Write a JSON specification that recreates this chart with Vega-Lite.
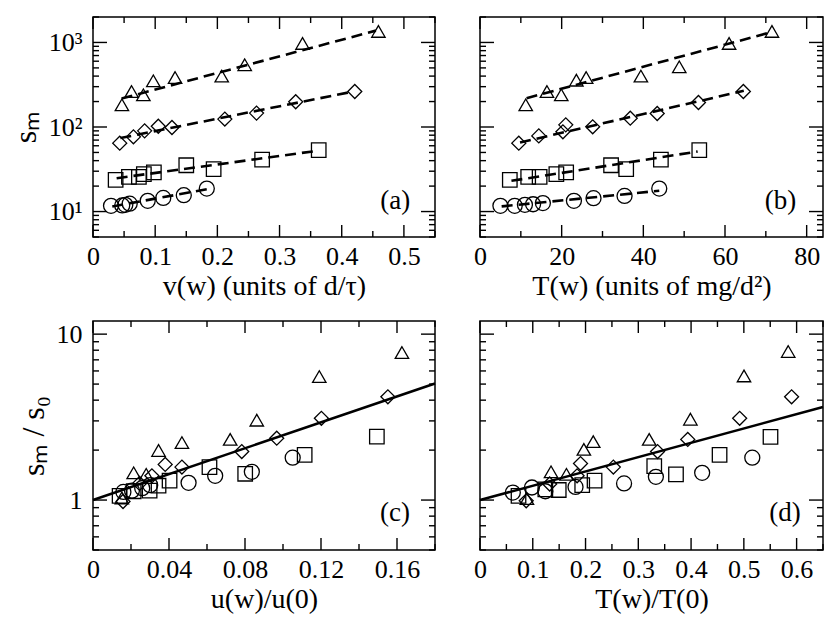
{
  "$schema": "https://vega.github.io/schema/vega-lite/v6.json",
  "background": "white",
  "padding": {"left": 8, "top": 15, "right": 6, "bottom": 5},
  "bounds": "flush",
  "columns": 2,
  "spacing": {"row": 84, "column": 45},
  "datasets": {
    "pa": [
      {"set": "A", "x": 0.029, "s": 11.7}, {"set": "A", "x": 0.047, "s": 11.8}, {"set": "A", "x": 0.052, "s": 12.0}, {"set": "A", "x": 0.059, "s": 12.4},
      {"set": "A", "x": 0.088, "s": 13.4}, {"set": "A", "x": 0.113, "s": 14.5}, {"set": "A", "x": 0.146, "s": 15.6}, {"set": "A", "x": 0.183, "s": 18.7},
      {"set": "B", "x": 0.0364, "s": 23.7}, {"set": "B", "x": 0.0578, "s": 25.7}, {"set": "B", "x": 0.0738, "s": 25.7}, {"set": "B", "x": 0.0818, "s": 27.7},
      {"set": "B", "x": 0.0979, "s": 29.0}, {"set": "B", "x": 0.150, "s": 35.3}, {"set": "B", "x": 0.194, "s": 31.7}, {"set": "B", "x": 0.272, "s": 41.2}, {"set": "B", "x": 0.363, "s": 53.2},
      {"set": "C", "x": 0.043, "s": 64.4}, {"set": "C", "x": 0.065, "s": 76.5}, {"set": "C", "x": 0.083, "s": 90}, {"set": "C", "x": 0.105, "s": 102},
      {"set": "C", "x": 0.127, "s": 98.6}, {"set": "C", "x": 0.212, "s": 124}, {"set": "C", "x": 0.263, "s": 146}, {"set": "C", "x": 0.326, "s": 199}, {"set": "C", "x": 0.421, "s": 263},
      {"set": "D", "x": 0.0465, "s": 183}, {"set": "D", "x": 0.062, "s": 263}, {"set": "D", "x": 0.081, "s": 240}, {"set": "D", "x": 0.097, "s": 352},
      {"set": "D", "x": 0.132, "s": 385}, {"set": "D", "x": 0.207, "s": 400}, {"set": "D", "x": 0.244, "s": 545}, {"set": "D", "x": 0.337, "s": 973}, {"set": "D", "x": 0.459, "s": 1349}
    ],
    "la": [
      {"set": "A", "x": 0.031, "s": 11.5}, {"set": "A", "x": 0.184, "s": 18.4},
      {"set": "B", "x": 0.038, "s": 24.8}, {"set": "B", "x": 0.360, "s": 52.2},
      {"set": "C", "x": 0.044, "s": 74}, {"set": "C", "x": 0.419, "s": 263},
      {"set": "D", "x": 0.046, "s": 217}, {"set": "D", "x": 0.455, "s": 1380}
    ],
    "pb": [
      {"set": "A", "x": 5.0, "s": 11.7}, {"set": "A", "x": 8.5, "s": 11.7}, {"set": "A", "x": 11.0, "s": 12.0}, {"set": "A", "x": 13.0, "s": 12.2},
      {"set": "A", "x": 15.4, "s": 12.6}, {"set": "A", "x": 23.0, "s": 13.4}, {"set": "A", "x": 27.8, "s": 14.4}, {"set": "A", "x": 35.4, "s": 15.3}, {"set": "A", "x": 43.9, "s": 18.7},
      {"set": "B", "x": 7.3, "s": 23.7}, {"set": "B", "x": 11.8, "s": 25.7}, {"set": "B", "x": 14.6, "s": 25.7}, {"set": "B", "x": 18.7, "s": 27.7},
      {"set": "B", "x": 21.1, "s": 29.0}, {"set": "B", "x": 32.1, "s": 35.3}, {"set": "B", "x": 35.8, "s": 31.7}, {"set": "B", "x": 44.3, "s": 41.2}, {"set": "B", "x": 53.7, "s": 53.2},
      {"set": "C", "x": 9.5, "s": 64.4}, {"set": "C", "x": 14.4, "s": 78.5}, {"set": "C", "x": 20.3, "s": 87.7}, {"set": "C", "x": 21.0, "s": 106},
      {"set": "C", "x": 27.6, "s": 100.5}, {"set": "C", "x": 36.8, "s": 127}, {"set": "C", "x": 43.4, "s": 144.5}, {"set": "C", "x": 53.5, "s": 195}, {"set": "C", "x": 64.5, "s": 263},
      {"set": "D", "x": 11.2, "s": 183}, {"set": "D", "x": 16.4, "s": 263}, {"set": "D", "x": 19.9, "s": 240}, {"set": "D", "x": 23.6, "s": 358},
      {"set": "D", "x": 26.0, "s": 385}, {"set": "D", "x": 39.4, "s": 400}, {"set": "D", "x": 48.8, "s": 515}, {"set": "D", "x": 61.0, "s": 973}, {"set": "D", "x": 71.5, "s": 1349}
    ],
    "lb": [
      {"set": "A", "x": 5.3, "s": 11.5}, {"set": "A", "x": 43.9, "s": 17.6},
      {"set": "B", "x": 7.7, "s": 23.1}, {"set": "B", "x": 53.3, "s": 51.3},
      {"set": "C", "x": 9.8, "s": 65.6}, {"set": "C", "x": 64.6, "s": 268},
      {"set": "D", "x": 11.4, "s": 219}, {"set": "D", "x": 71.1, "s": 1313}
    ],
    "pc": [
      {"set": "A", "x": 0.0160, "s": 1.12}, {"set": "A", "x": 0.0205, "s": 1.14}, {"set": "A", "x": 0.0259, "s": 1.18}, {"set": "A", "x": 0.0301, "s": 1.23},
      {"set": "A", "x": 0.0503, "s": 1.27}, {"set": "A", "x": 0.0643, "s": 1.40}, {"set": "A", "x": 0.0836, "s": 1.48}, {"set": "A", "x": 0.1051, "s": 1.80},
      {"set": "B", "x": 0.0140, "s": 1.06}, {"set": "B", "x": 0.0214, "s": 1.13}, {"set": "B", "x": 0.0298, "s": 1.14}, {"set": "B", "x": 0.0345, "s": 1.22},
      {"set": "B", "x": 0.0403, "s": 1.31}, {"set": "B", "x": 0.0613, "s": 1.58}, {"set": "B", "x": 0.0801, "s": 1.44}, {"set": "B", "x": 0.1114, "s": 1.87}, {"set": "B", "x": 0.1494, "s": 2.41},
      {"set": "C", "x": 0.0158, "s": 0.98}, {"set": "C", "x": 0.0245, "s": 1.26}, {"set": "C", "x": 0.0310, "s": 1.40}, {"set": "C", "x": 0.0380, "s": 1.64},
      {"set": "C", "x": 0.0468, "s": 1.58}, {"set": "C", "x": 0.0783, "s": 1.96}, {"set": "C", "x": 0.0967, "s": 2.36}, {"set": "C", "x": 0.1202, "s": 3.11}, {"set": "C", "x": 0.1552, "s": 4.19},
      {"set": "D", "x": 0.0152, "s": 1.03}, {"set": "D", "x": 0.0214, "s": 1.46}, {"set": "D", "x": 0.0280, "s": 1.43}, {"set": "D", "x": 0.0345, "s": 1.99},
      {"set": "D", "x": 0.0468, "s": 2.22}, {"set": "D", "x": 0.0722, "s": 2.32}, {"set": "D", "x": 0.0862, "s": 3.03}, {"set": "D", "x": 0.1191, "s": 5.55}, {"set": "D", "x": 0.1626, "s": 7.75}
    ],
    "lc": [{"x": 0, "s": 1}, {"x": 0.18, "s": 5.04}],
    "pd": [
      {"set": "A", "x": 0.0622, "s": 1.11}, {"set": "A", "x": 0.0984, "s": 1.19}, {"set": "A", "x": 0.1238, "s": 1.13}, {"set": "A", "x": 0.181, "s": 1.20},
      {"set": "A", "x": 0.273, "s": 1.26}, {"set": "A", "x": 0.3333, "s": 1.38}, {"set": "A", "x": 0.421, "s": 1.46}, {"set": "A", "x": 0.516, "s": 1.80},
      {"set": "B", "x": 0.073, "s": 1.06}, {"set": "B", "x": 0.1238, "s": 1.16}, {"set": "B", "x": 0.1492, "s": 1.15}, {"set": "B", "x": 0.1937, "s": 1.23},
      {"set": "B", "x": 0.2171, "s": 1.31}, {"set": "B", "x": 0.3302, "s": 1.60}, {"set": "B", "x": 0.3714, "s": 1.43}, {"set": "B", "x": 0.454, "s": 1.87}, {"set": "B", "x": 0.5505, "s": 2.40},
      {"set": "C", "x": 0.0876, "s": 0.99}, {"set": "C", "x": 0.132, "s": 1.25}, {"set": "C", "x": 0.184, "s": 1.40}, {"set": "C", "x": 0.1905, "s": 1.66},
      {"set": "C", "x": 0.2527, "s": 1.58}, {"set": "C", "x": 0.3365, "s": 1.96}, {"set": "C", "x": 0.3937, "s": 2.32}, {"set": "C", "x": 0.4921, "s": 3.11}, {"set": "C", "x": 0.5905, "s": 4.19},
      {"set": "D", "x": 0.0889, "s": 1.02}, {"set": "D", "x": 0.1346, "s": 1.48}, {"set": "D", "x": 0.1638, "s": 1.43}, {"set": "D", "x": 0.1968, "s": 2.02},
      {"set": "D", "x": 0.2146, "s": 2.25}, {"set": "D", "x": 0.3206, "s": 2.32}, {"set": "D", "x": 0.3987, "s": 3.07}, {"set": "D", "x": 0.5003, "s": 5.60}, {"set": "D", "x": 0.5841, "s": 7.86}
    ],
    "ld": [{"x": 0, "s": 1}, {"x": 0.65, "s": 3.64}],
    "xa1": [{"v": 0}, {"v": 0.1}, {"v": 0.2}, {"v": 0.3}, {"v": 0.4}, {"v": 0.5}],
    "xa2": [{"v": 0.05}, {"v": 0.15}, {"v": 0.25}, {"v": 0.35}, {"v": 0.45}, {"v": 0.55}],
    "xb1": [{"v": 0}, {"v": 20}, {"v": 40}, {"v": 60}, {"v": 80}],
    "xb2": [{"v": 10}, {"v": 30}, {"v": 50}, {"v": 70}],
    "xc1": [{"v": 0}, {"v": 0.04}, {"v": 0.08}, {"v": 0.12}, {"v": 0.16}],
    "xc2": [{"v": 0.02}, {"v": 0.06}, {"v": 0.1}, {"v": 0.14}, {"v": 0.18}],
    "xd1": [{"v": 0}, {"v": 0.1}, {"v": 0.2}, {"v": 0.3}, {"v": 0.4}, {"v": 0.5}, {"v": 0.6}],
    "xd2": [{"v": 0.05}, {"v": 0.15}, {"v": 0.25}, {"v": 0.35}, {"v": 0.45}, {"v": 0.55}, {"v": 0.65}],
    "ys1": [{"v": 10}, {"v": 100}, {"v": 1000}],
    "ys2": [{"v": 5}, {"v": 6}, {"v": 7}, {"v": 8}, {"v": 9}, {"v": 20}, {"v": 30}, {"v": 40}, {"v": 50}, {"v": 60}, {"v": 70}, {"v": 80}, {"v": 90},
            {"v": 200}, {"v": 300}, {"v": 400}, {"v": 500}, {"v": 600}, {"v": 700}, {"v": 800}, {"v": 900}, {"v": 2000}],
    "yr1": [{"v": 1}, {"v": 10}],
    "yr2": [{"v": 0.5}, {"v": 0.6}, {"v": 0.7}, {"v": 0.8}, {"v": 0.9}, {"v": 2}, {"v": 3}, {"v": 4}, {"v": 5}, {"v": 6}, {"v": 7}, {"v": 8}, {"v": 9}]
  },
  "concat": [
    {
      "width": 342,
      "height": 220,
      "layer": [
        {
          "data": {"name": "pa"},
          "mark": {"type": "point", "filled": false, "color": "black", "strokeWidth": 1.3, "opacity": 1},
          "encoding": {
            "x": {"field": "x", "type": "quantitative", "scale": {"domain": [0, 0.55], "nice": false},
              "axis": {"orient": "bottom", "title": "v(w) (units of d/τ)", "values": [0, 0.1, 0.2, 0.3, 0.4, 0.5], "format": "~g"}},
            "y": {"field": "s", "type": "quantitative", "scale": {"type": "log", "domain": [5, 2000], "nice": false},
              "axis": {"orient": "left", "title": "sₘ", "titleFontSize": 32, "values": [10, 100, 1000], "labelExpr": "datum.value == 1000 ? '10³' : datum.value == 100 ? '10²' : '10¹'"}},
            "shape": {"field": "set", "type": "nominal", "scale": {"domain": ["A", "B", "C", "D"], "range": ["circle", "square", "diamond", "triangle-up"]}, "legend": null},
            "size": {"field": "set", "type": "nominal", "scale": {"domain": ["A", "B", "C", "D"], "range": [225, 180, 290, 420]}, "legend": null}
          }
        },
        {
          "data": {"name": "la"},
          "mark": {"type": "line", "color": "black", "strokeWidth": 2.6, "strokeDash": [11, 6]},
          "encoding": {
            "x": {"field": "x", "type": "quantitative", "scale": {"domain": [0, 0.55], "nice": false}, "axis": null},
            "y": {"field": "s", "type": "quantitative", "scale": {"type": "log", "domain": [5, 2000], "nice": false}, "axis": null},
            "detail": {"field": "set"}
          }
        },
        {
          "data": {"name": "xa1"},
          "mark": {"type": "tick", "orient": "vertical", "size": 12, "thickness": 1.4, "yOffset": -6, "color": "black", "opacity": 1},
          "encoding": {
            "x": {"field": "v", "type": "quantitative", "scale": {"domain": [0, 0.55], "nice": false}, "axis": null},
            "y": {"datum": 5, "type": "quantitative", "scale": {"type": "log", "domain": [5, 2000], "nice": false}, "axis": null}
          }
        },
        {
          "data": {"name": "xa1"},
          "mark": {"type": "tick", "orient": "vertical", "size": 12, "thickness": 1.4, "yOffset": 6, "color": "black", "opacity": 1},
          "encoding": {
            "x": {"field": "v", "type": "quantitative", "scale": {"domain": [0, 0.55], "nice": false}, "axis": null},
            "y": {"datum": 2000, "type": "quantitative", "scale": {"type": "log", "domain": [5, 2000], "nice": false}, "axis": null}
          }
        },
        {
          "data": {"name": "xa2"},
          "mark": {"type": "tick", "orient": "vertical", "size": 6, "thickness": 1.4, "yOffset": -3, "color": "black", "opacity": 1},
          "encoding": {
            "x": {"field": "v", "type": "quantitative", "scale": {"domain": [0, 0.55], "nice": false}, "axis": null},
            "y": {"datum": 5, "type": "quantitative", "scale": {"type": "log", "domain": [5, 2000], "nice": false}, "axis": null}
          }
        },
        {
          "data": {"name": "xa2"},
          "mark": {"type": "tick", "orient": "vertical", "size": 6, "thickness": 1.4, "yOffset": 3, "color": "black", "opacity": 1},
          "encoding": {
            "x": {"field": "v", "type": "quantitative", "scale": {"domain": [0, 0.55], "nice": false}, "axis": null},
            "y": {"datum": 2000, "type": "quantitative", "scale": {"type": "log", "domain": [5, 2000], "nice": false}, "axis": null}
          }
        },
        {
          "data": {"name": "ys1"},
          "mark": {"type": "tick", "orient": "horizontal", "size": 14, "thickness": 1.4, "xOffset": 7, "color": "black", "opacity": 1},
          "encoding": {
            "x": {"datum": 0, "type": "quantitative", "scale": {"domain": [0, 0.55], "nice": false}, "axis": null},
            "y": {"field": "v", "type": "quantitative", "scale": {"type": "log", "domain": [5, 2000], "nice": false}, "axis": null}
          }
        },
        {
          "data": {"name": "ys1"},
          "mark": {"type": "tick", "orient": "horizontal", "size": 14, "thickness": 1.4, "xOffset": -7, "color": "black", "opacity": 1},
          "encoding": {
            "x": {"datum": 0.55, "type": "quantitative", "scale": {"domain": [0, 0.55], "nice": false}, "axis": null},
            "y": {"field": "v", "type": "quantitative", "scale": {"type": "log", "domain": [5, 2000], "nice": false}, "axis": null}
          }
        },
        {
          "data": {"name": "ys2"},
          "mark": {"type": "tick", "orient": "horizontal", "size": 6, "thickness": 1.4, "xOffset": 3, "color": "black", "opacity": 1},
          "encoding": {
            "x": {"datum": 0, "type": "quantitative", "scale": {"domain": [0, 0.55], "nice": false}, "axis": null},
            "y": {"field": "v", "type": "quantitative", "scale": {"type": "log", "domain": [5, 2000], "nice": false}, "axis": null}
          }
        },
        {
          "data": {"name": "ys2"},
          "mark": {"type": "tick", "orient": "horizontal", "size": 6, "thickness": 1.4, "xOffset": -3, "color": "black", "opacity": 1},
          "encoding": {
            "x": {"datum": 0.55, "type": "quantitative", "scale": {"domain": [0, 0.55], "nice": false}, "axis": null},
            "y": {"field": "v", "type": "quantitative", "scale": {"type": "log", "domain": [5, 2000], "nice": false}, "axis": null}
          }
        },
        {
          "data": {"values": [{"x": 0.486, "s": 13.4, "t": "(a)"}]},
          "mark": {"type": "text", "font": "Liberation Serif", "fontSize": 27, "color": "black", "baseline": "middle", "align": "center"},
          "encoding": {
            "x": {"field": "x", "type": "quantitative", "scale": {"domain": [0, 0.55], "nice": false}, "axis": null},
            "y": {"field": "s", "type": "quantitative", "scale": {"type": "log", "domain": [5, 2000], "nice": false}, "axis": null},
            "text": {"field": "t"}
          }
        }
      ],
      "resolve": {"axis": {"x": "independent", "y": "independent"}}
    },
    {
      "width": 343,
      "height": 220,
      "layer": [
        {
          "data": {"name": "pb"},
          "mark": {"type": "point", "filled": false, "color": "black", "strokeWidth": 1.3, "opacity": 1},
          "encoding": {
            "x": {"field": "x", "type": "quantitative", "scale": {"domain": [0, 84], "nice": false},
              "axis": {"orient": "bottom", "title": "T(w) (units of mg/d²)", "values": [0, 20, 40, 60, 80], "format": "d"}},
            "y": {"field": "s", "type": "quantitative", "scale": {"type": "log", "domain": [5, 2000], "nice": false}, "axis": null},
            "shape": {"field": "set", "type": "nominal", "scale": {"domain": ["A", "B", "C", "D"], "range": ["circle", "square", "diamond", "triangle-up"]}, "legend": null},
            "size": {"field": "set", "type": "nominal", "scale": {"domain": ["A", "B", "C", "D"], "range": [225, 180, 290, 420]}, "legend": null}
          }
        },
        {
          "data": {"name": "lb"},
          "mark": {"type": "line", "color": "black", "strokeWidth": 2.6, "strokeDash": [11, 6]},
          "encoding": {
            "x": {"field": "x", "type": "quantitative", "scale": {"domain": [0, 84], "nice": false}, "axis": null},
            "y": {"field": "s", "type": "quantitative", "scale": {"type": "log", "domain": [5, 2000], "nice": false}, "axis": null},
            "detail": {"field": "set"}
          }
        },
        {
          "data": {"name": "xb1"},
          "mark": {"type": "tick", "orient": "vertical", "size": 12, "thickness": 1.4, "yOffset": -6, "color": "black", "opacity": 1},
          "encoding": {
            "x": {"field": "v", "type": "quantitative", "scale": {"domain": [0, 84], "nice": false}, "axis": null},
            "y": {"datum": 5, "type": "quantitative", "scale": {"type": "log", "domain": [5, 2000], "nice": false}, "axis": null}
          }
        },
        {
          "data": {"name": "xb1"},
          "mark": {"type": "tick", "orient": "vertical", "size": 12, "thickness": 1.4, "yOffset": 6, "color": "black", "opacity": 1},
          "encoding": {
            "x": {"field": "v", "type": "quantitative", "scale": {"domain": [0, 84], "nice": false}, "axis": null},
            "y": {"datum": 2000, "type": "quantitative", "scale": {"type": "log", "domain": [5, 2000], "nice": false}, "axis": null}
          }
        },
        {
          "data": {"name": "xb2"},
          "mark": {"type": "tick", "orient": "vertical", "size": 6, "thickness": 1.4, "yOffset": -3, "color": "black", "opacity": 1},
          "encoding": {
            "x": {"field": "v", "type": "quantitative", "scale": {"domain": [0, 84], "nice": false}, "axis": null},
            "y": {"datum": 5, "type": "quantitative", "scale": {"type": "log", "domain": [5, 2000], "nice": false}, "axis": null}
          }
        },
        {
          "data": {"name": "xb2"},
          "mark": {"type": "tick", "orient": "vertical", "size": 6, "thickness": 1.4, "yOffset": 3, "color": "black", "opacity": 1},
          "encoding": {
            "x": {"field": "v", "type": "quantitative", "scale": {"domain": [0, 84], "nice": false}, "axis": null},
            "y": {"datum": 2000, "type": "quantitative", "scale": {"type": "log", "domain": [5, 2000], "nice": false}, "axis": null}
          }
        },
        {
          "data": {"name": "ys1"},
          "mark": {"type": "tick", "orient": "horizontal", "size": 14, "thickness": 1.4, "xOffset": 7, "color": "black", "opacity": 1},
          "encoding": {
            "x": {"datum": 0, "type": "quantitative", "scale": {"domain": [0, 84], "nice": false}, "axis": null},
            "y": {"field": "v", "type": "quantitative", "scale": {"type": "log", "domain": [5, 2000], "nice": false}, "axis": null}
          }
        },
        {
          "data": {"name": "ys1"},
          "mark": {"type": "tick", "orient": "horizontal", "size": 14, "thickness": 1.4, "xOffset": -7, "color": "black", "opacity": 1},
          "encoding": {
            "x": {"datum": 84, "type": "quantitative", "scale": {"domain": [0, 84], "nice": false}, "axis": null},
            "y": {"field": "v", "type": "quantitative", "scale": {"type": "log", "domain": [5, 2000], "nice": false}, "axis": null}
          }
        },
        {
          "data": {"name": "ys2"},
          "mark": {"type": "tick", "orient": "horizontal", "size": 6, "thickness": 1.4, "xOffset": 3, "color": "black", "opacity": 1},
          "encoding": {
            "x": {"datum": 0, "type": "quantitative", "scale": {"domain": [0, 84], "nice": false}, "axis": null},
            "y": {"field": "v", "type": "quantitative", "scale": {"type": "log", "domain": [5, 2000], "nice": false}, "axis": null}
          }
        },
        {
          "data": {"name": "ys2"},
          "mark": {"type": "tick", "orient": "horizontal", "size": 6, "thickness": 1.4, "xOffset": -3, "color": "black", "opacity": 1},
          "encoding": {
            "x": {"datum": 84, "type": "quantitative", "scale": {"domain": [0, 84], "nice": false}, "axis": null},
            "y": {"field": "v", "type": "quantitative", "scale": {"type": "log", "domain": [5, 2000], "nice": false}, "axis": null}
          }
        },
        {
          "data": {"values": [{"x": 73.6, "s": 13.4, "t": "(b)"}]},
          "mark": {"type": "text", "font": "Liberation Serif", "fontSize": 27, "color": "black", "baseline": "middle", "align": "center"},
          "encoding": {
            "x": {"field": "x", "type": "quantitative", "scale": {"domain": [0, 84], "nice": false}, "axis": null},
            "y": {"field": "s", "type": "quantitative", "scale": {"type": "log", "domain": [5, 2000], "nice": false}, "axis": null},
            "text": {"field": "t"}
          }
        }
      ],
      "resolve": {"axis": {"x": "independent", "y": "independent"}}
    },
    {
      "width": 342,
      "height": 229,
      "layer": [
        {
          "data": {"name": "pc"},
          "mark": {"type": "point", "filled": false, "color": "black", "strokeWidth": 1.3, "opacity": 1},
          "encoding": {
            "x": {"field": "x", "type": "quantitative", "scale": {"domain": [0, 0.18], "nice": false},
              "axis": {"orient": "bottom", "title": "u(w)/u(0)", "values": [0, 0.04, 0.08, 0.12, 0.16], "format": "~g"}},
            "y": {"field": "s", "type": "quantitative", "scale": {"type": "log", "domain": [0.5, 12], "nice": false},
              "axis": {"orient": "left", "title": "sₘ / s₀", "titleFontSize": 32, "values": [1, 10], "format": "~g"}},
            "shape": {"field": "set", "type": "nominal", "scale": {"domain": ["A", "B", "C", "D"], "range": ["circle", "square", "diamond", "triangle-up"]}, "legend": null},
            "size": {"field": "set", "type": "nominal", "scale": {"domain": ["A", "B", "C", "D"], "range": [225, 180, 290, 420]}, "legend": null}
          }
        },
        {
          "data": {"name": "lc"},
          "mark": {"type": "line", "color": "black", "strokeWidth": 2.5},
          "encoding": {
            "x": {"field": "x", "type": "quantitative", "scale": {"domain": [0, 0.18], "nice": false}, "axis": null},
            "y": {"field": "s", "type": "quantitative", "scale": {"type": "log", "domain": [0.5, 12], "nice": false}, "axis": null}
          }
        },
        {
          "data": {"name": "xc1"},
          "mark": {"type": "tick", "orient": "vertical", "size": 12, "thickness": 1.4, "yOffset": -6, "color": "black", "opacity": 1},
          "encoding": {
            "x": {"field": "v", "type": "quantitative", "scale": {"domain": [0, 0.18], "nice": false}, "axis": null},
            "y": {"datum": 0.5, "type": "quantitative", "scale": {"type": "log", "domain": [0.5, 12], "nice": false}, "axis": null}
          }
        },
        {
          "data": {"name": "xc1"},
          "mark": {"type": "tick", "orient": "vertical", "size": 12, "thickness": 1.4, "yOffset": 6, "color": "black", "opacity": 1},
          "encoding": {
            "x": {"field": "v", "type": "quantitative", "scale": {"domain": [0, 0.18], "nice": false}, "axis": null},
            "y": {"datum": 12, "type": "quantitative", "scale": {"type": "log", "domain": [0.5, 12], "nice": false}, "axis": null}
          }
        },
        {
          "data": {"name": "xc2"},
          "mark": {"type": "tick", "orient": "vertical", "size": 6, "thickness": 1.4, "yOffset": -3, "color": "black", "opacity": 1},
          "encoding": {
            "x": {"field": "v", "type": "quantitative", "scale": {"domain": [0, 0.18], "nice": false}, "axis": null},
            "y": {"datum": 0.5, "type": "quantitative", "scale": {"type": "log", "domain": [0.5, 12], "nice": false}, "axis": null}
          }
        },
        {
          "data": {"name": "xc2"},
          "mark": {"type": "tick", "orient": "vertical", "size": 6, "thickness": 1.4, "yOffset": 3, "color": "black", "opacity": 1},
          "encoding": {
            "x": {"field": "v", "type": "quantitative", "scale": {"domain": [0, 0.18], "nice": false}, "axis": null},
            "y": {"datum": 12, "type": "quantitative", "scale": {"type": "log", "domain": [0.5, 12], "nice": false}, "axis": null}
          }
        },
        {
          "data": {"name": "yr1"},
          "mark": {"type": "tick", "orient": "horizontal", "size": 14, "thickness": 1.4, "xOffset": 7, "color": "black", "opacity": 1},
          "encoding": {
            "x": {"datum": 0, "type": "quantitative", "scale": {"domain": [0, 0.18], "nice": false}, "axis": null},
            "y": {"field": "v", "type": "quantitative", "scale": {"type": "log", "domain": [0.5, 12], "nice": false}, "axis": null}
          }
        },
        {
          "data": {"name": "yr1"},
          "mark": {"type": "tick", "orient": "horizontal", "size": 14, "thickness": 1.4, "xOffset": -7, "color": "black", "opacity": 1},
          "encoding": {
            "x": {"datum": 0.18, "type": "quantitative", "scale": {"domain": [0, 0.18], "nice": false}, "axis": null},
            "y": {"field": "v", "type": "quantitative", "scale": {"type": "log", "domain": [0.5, 12], "nice": false}, "axis": null}
          }
        },
        {
          "data": {"name": "yr2"},
          "mark": {"type": "tick", "orient": "horizontal", "size": 6, "thickness": 1.4, "xOffset": 3, "color": "black", "opacity": 1},
          "encoding": {
            "x": {"datum": 0, "type": "quantitative", "scale": {"domain": [0, 0.18], "nice": false}, "axis": null},
            "y": {"field": "v", "type": "quantitative", "scale": {"type": "log", "domain": [0.5, 12], "nice": false}, "axis": null}
          }
        },
        {
          "data": {"name": "yr2"},
          "mark": {"type": "tick", "orient": "horizontal", "size": 6, "thickness": 1.4, "xOffset": -3, "color": "black", "opacity": 1},
          "encoding": {
            "x": {"datum": 0.18, "type": "quantitative", "scale": {"domain": [0, 0.18], "nice": false}, "axis": null},
            "y": {"field": "v", "type": "quantitative", "scale": {"type": "log", "domain": [0.5, 12], "nice": false}, "axis": null}
          }
        },
        {
          "data": {"values": [{"x": 0.159, "s": 0.84, "t": "(c)"}]},
          "mark": {"type": "text", "font": "Liberation Serif", "fontSize": 27, "color": "black", "baseline": "middle", "align": "center"},
          "encoding": {
            "x": {"field": "x", "type": "quantitative", "scale": {"domain": [0, 0.18], "nice": false}, "axis": null},
            "y": {"field": "s", "type": "quantitative", "scale": {"type": "log", "domain": [0.5, 12], "nice": false}, "axis": null},
            "text": {"field": "t"}
          }
        }
      ],
      "resolve": {"axis": {"x": "independent", "y": "independent"}}
    },
    {
      "width": 343,
      "height": 229,
      "layer": [
        {
          "data": {"name": "pd"},
          "mark": {"type": "point", "filled": false, "color": "black", "strokeWidth": 1.3, "opacity": 1},
          "encoding": {
            "x": {"field": "x", "type": "quantitative", "scale": {"domain": [0, 0.65], "nice": false},
              "axis": {"orient": "bottom", "title": "T(w)/T(0)", "values": [0, 0.1, 0.2, 0.3, 0.4, 0.5, 0.6], "format": "~g"}},
            "y": {"field": "s", "type": "quantitative", "scale": {"type": "log", "domain": [0.5, 12], "nice": false}, "axis": null},
            "shape": {"field": "set", "type": "nominal", "scale": {"domain": ["A", "B", "C", "D"], "range": ["circle", "square", "diamond", "triangle-up"]}, "legend": null},
            "size": {"field": "set", "type": "nominal", "scale": {"domain": ["A", "B", "C", "D"], "range": [225, 180, 290, 420]}, "legend": null}
          }
        },
        {
          "data": {"name": "ld"},
          "mark": {"type": "line", "color": "black", "strokeWidth": 2.5},
          "encoding": {
            "x": {"field": "x", "type": "quantitative", "scale": {"domain": [0, 0.65], "nice": false}, "axis": null},
            "y": {"field": "s", "type": "quantitative", "scale": {"type": "log", "domain": [0.5, 12], "nice": false}, "axis": null}
          }
        },
        {
          "data": {"name": "xd1"},
          "mark": {"type": "tick", "orient": "vertical", "size": 12, "thickness": 1.4, "yOffset": -6, "color": "black", "opacity": 1},
          "encoding": {
            "x": {"field": "v", "type": "quantitative", "scale": {"domain": [0, 0.65], "nice": false}, "axis": null},
            "y": {"datum": 0.5, "type": "quantitative", "scale": {"type": "log", "domain": [0.5, 12], "nice": false}, "axis": null}
          }
        },
        {
          "data": {"name": "xd1"},
          "mark": {"type": "tick", "orient": "vertical", "size": 12, "thickness": 1.4, "yOffset": 6, "color": "black", "opacity": 1},
          "encoding": {
            "x": {"field": "v", "type": "quantitative", "scale": {"domain": [0, 0.65], "nice": false}, "axis": null},
            "y": {"datum": 12, "type": "quantitative", "scale": {"type": "log", "domain": [0.5, 12], "nice": false}, "axis": null}
          }
        },
        {
          "data": {"name": "xd2"},
          "mark": {"type": "tick", "orient": "vertical", "size": 6, "thickness": 1.4, "yOffset": -3, "color": "black", "opacity": 1},
          "encoding": {
            "x": {"field": "v", "type": "quantitative", "scale": {"domain": [0, 0.65], "nice": false}, "axis": null},
            "y": {"datum": 0.5, "type": "quantitative", "scale": {"type": "log", "domain": [0.5, 12], "nice": false}, "axis": null}
          }
        },
        {
          "data": {"name": "xd2"},
          "mark": {"type": "tick", "orient": "vertical", "size": 6, "thickness": 1.4, "yOffset": 3, "color": "black", "opacity": 1},
          "encoding": {
            "x": {"field": "v", "type": "quantitative", "scale": {"domain": [0, 0.65], "nice": false}, "axis": null},
            "y": {"datum": 12, "type": "quantitative", "scale": {"type": "log", "domain": [0.5, 12], "nice": false}, "axis": null}
          }
        },
        {
          "data": {"name": "yr1"},
          "mark": {"type": "tick", "orient": "horizontal", "size": 14, "thickness": 1.4, "xOffset": 7, "color": "black", "opacity": 1},
          "encoding": {
            "x": {"datum": 0, "type": "quantitative", "scale": {"domain": [0, 0.65], "nice": false}, "axis": null},
            "y": {"field": "v", "type": "quantitative", "scale": {"type": "log", "domain": [0.5, 12], "nice": false}, "axis": null}
          }
        },
        {
          "data": {"name": "yr1"},
          "mark": {"type": "tick", "orient": "horizontal", "size": 14, "thickness": 1.4, "xOffset": -7, "color": "black", "opacity": 1},
          "encoding": {
            "x": {"datum": 0.65, "type": "quantitative", "scale": {"domain": [0, 0.65], "nice": false}, "axis": null},
            "y": {"field": "v", "type": "quantitative", "scale": {"type": "log", "domain": [0.5, 12], "nice": false}, "axis": null}
          }
        },
        {
          "data": {"name": "yr2"},
          "mark": {"type": "tick", "orient": "horizontal", "size": 6, "thickness": 1.4, "xOffset": 3, "color": "black", "opacity": 1},
          "encoding": {
            "x": {"datum": 0, "type": "quantitative", "scale": {"domain": [0, 0.65], "nice": false}, "axis": null},
            "y": {"field": "v", "type": "quantitative", "scale": {"type": "log", "domain": [0.5, 12], "nice": false}, "axis": null}
          }
        },
        {
          "data": {"name": "yr2"},
          "mark": {"type": "tick", "orient": "horizontal", "size": 6, "thickness": 1.4, "xOffset": -3, "color": "black", "opacity": 1},
          "encoding": {
            "x": {"datum": 0.65, "type": "quantitative", "scale": {"domain": [0, 0.65], "nice": false}, "axis": null},
            "y": {"field": "v", "type": "quantitative", "scale": {"type": "log", "domain": [0.5, 12], "nice": false}, "axis": null}
          }
        },
        {
          "data": {"values": [{"x": 0.578, "s": 0.84, "t": "(d)"}]},
          "mark": {"type": "text", "font": "Liberation Serif", "fontSize": 27, "color": "black", "baseline": "middle", "align": "center"},
          "encoding": {
            "x": {"field": "x", "type": "quantitative", "scale": {"domain": [0, 0.65], "nice": false}, "axis": null},
            "y": {"field": "s", "type": "quantitative", "scale": {"type": "log", "domain": [0.5, 12], "nice": false}, "axis": null},
            "text": {"field": "t"}
          }
        }
      ],
      "resolve": {"axis": {"x": "independent", "y": "independent"}}
    }
  ],
  "config": {
    "view": {"stroke": "black", "strokeWidth": 1.5},
    "axis": {
      "domain": false,
      "ticks": false,
      "grid": false,
      "labelFont": "Liberation Serif",
      "labelFontSize": 26,
      "labelColor": "black",
      "labelFlush": false,
      "labelOverlap": false,
      "labelPadding": 6,
      "titleFont": "Liberation Serif",
      "titleFontSize": 28,
      "titleFontWeight": "normal",
      "titleColor": "black",
      "titlePadding": 3
    },
    "axisY": {"labelPadding": 11, "titlePadding": 6}
  }
}
